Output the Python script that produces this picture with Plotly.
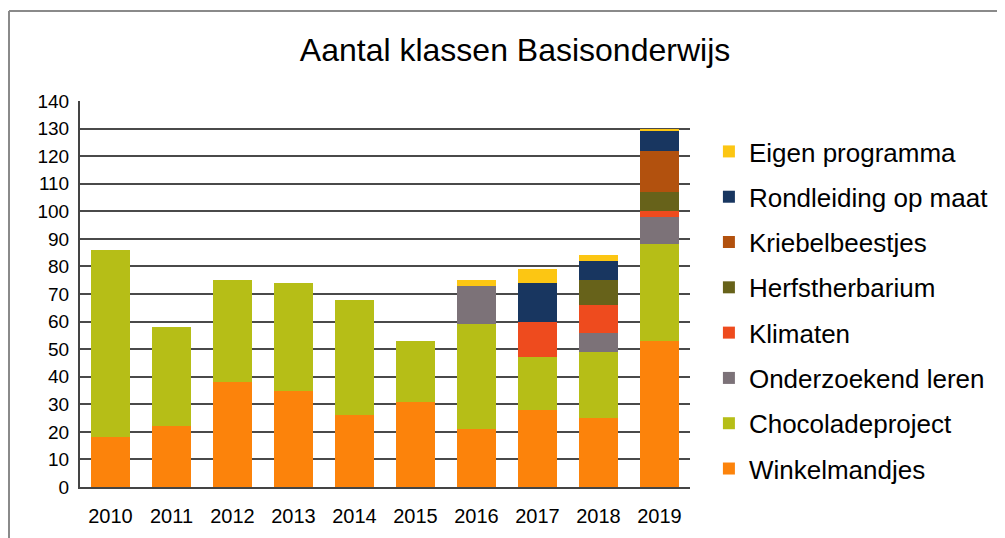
import plotly.graph_objects as go

years = ["2010", "2011", "2012", "2013", "2014", "2015", "2016", "2017", "2018", "2019"]

winkelmandjes = [18, 22, 38, 35, 26, 31, 21, 28, 25, 53]
chocoladeproject = [68, 36, 37, 39, 42, 22, 38, 19, 24, 35]
onderzoekend_leren = [0, 0, 0, 0, 0, 0, 14, 0, 7, 10]
klimaten = [0, 0, 0, 0, 0, 0, 0, 13, 10, 2]
herfstherbarium = [0, 0, 0, 0, 0, 0, 0, 0, 9, 7]
kriebelbeestjes = [0, 0, 0, 0, 0, 0, 0, 0, 0, 15]
rondleiding = [0, 0, 0, 0, 0, 0, 0, 14, 7, 7]
eigen_programma = [0, 0, 0, 0, 0, 0, 2, 5, 2, 1]

series = [
    ("Winkelmandjes", winkelmandjes, "#FC830B"),
    ("Chocoladeproject", chocoladeproject, "#B6BE17"),
    ("Onderzoekend leren", onderzoekend_leren, "#7C7278"),
    ("Klimaten", klimaten, "#EE4B1E"),
    ("Herfstherbarium", herfstherbarium, "#67621A"),
    ("Kriebelbeestjes", kriebelbeestjes, "#B2510E"),
    ("Rondleiding op maat", rondleiding, "#183660"),
    ("Eigen programma", eigen_programma, "#FCC613"),
]

fig = go.Figure()
for i, (name, vals, color) in enumerate(series):
    fig.add_trace(go.Bar(
        x=years, y=vals, name=name, marker_color=color,
        marker_line_width=0, legendgroup=name, legendrank=1000 - i,
    ))

fig.update_layout(
    barmode="stack",
    bargap=0.37,
    width=1005, height=538,
    margin=dict(l=72, r=323, t=93, b=59),
    paper_bgcolor="white",
    plot_bgcolor="white",
    font=dict(family="Liberation Sans, Arial, sans-serif", size=18, color="black"),
    title=dict(text="Aantal klassen Basisonderwijs", x=0.5045, xanchor="center",
               y=0.922, yanchor="middle",
               font=dict(size=32, color="black")),
    legend=dict(
        traceorder="grouped",
        tracegroupgap=8.5,
        x=1.031, xanchor="left", y=0.93, yanchor="top",
        font=dict(size=26, color="black"),
        itemwidth=30,
        bgcolor="rgba(0,0,0,0)",
    ),
    xaxis=dict(
        showgrid=False, showline=True, linecolor="#444444", linewidth=2,
        ticks="", tickfont=dict(size=20), ticklabelstandoff=10, fixedrange=True,
    ),
    yaxis=dict(
        range=[0, 140], dtick=10, showgrid=True, gridcolor="#4a4a4a", gridwidth=1.6,
        showline=True, linecolor="#444444", linewidth=2, zeroline=False,
        ticks="", tickfont=dict(size=19), ticklabelstandoff=5,
    ),
    shapes=[
        dict(type="line", xref="paper", yref="paper", x0=-0.1164, x1=1.6, y0=1.233, y1=1.233,
             line=dict(color="#8a8a8a", width=2)),
        dict(type="line", xref="paper", yref="paper", x0=-0.1164, x1=-0.1164, y0=-0.3, y1=1.233,
             line=dict(color="#8a8a8a", width=2)),
    ],
)

fig.write_html("out.html")
